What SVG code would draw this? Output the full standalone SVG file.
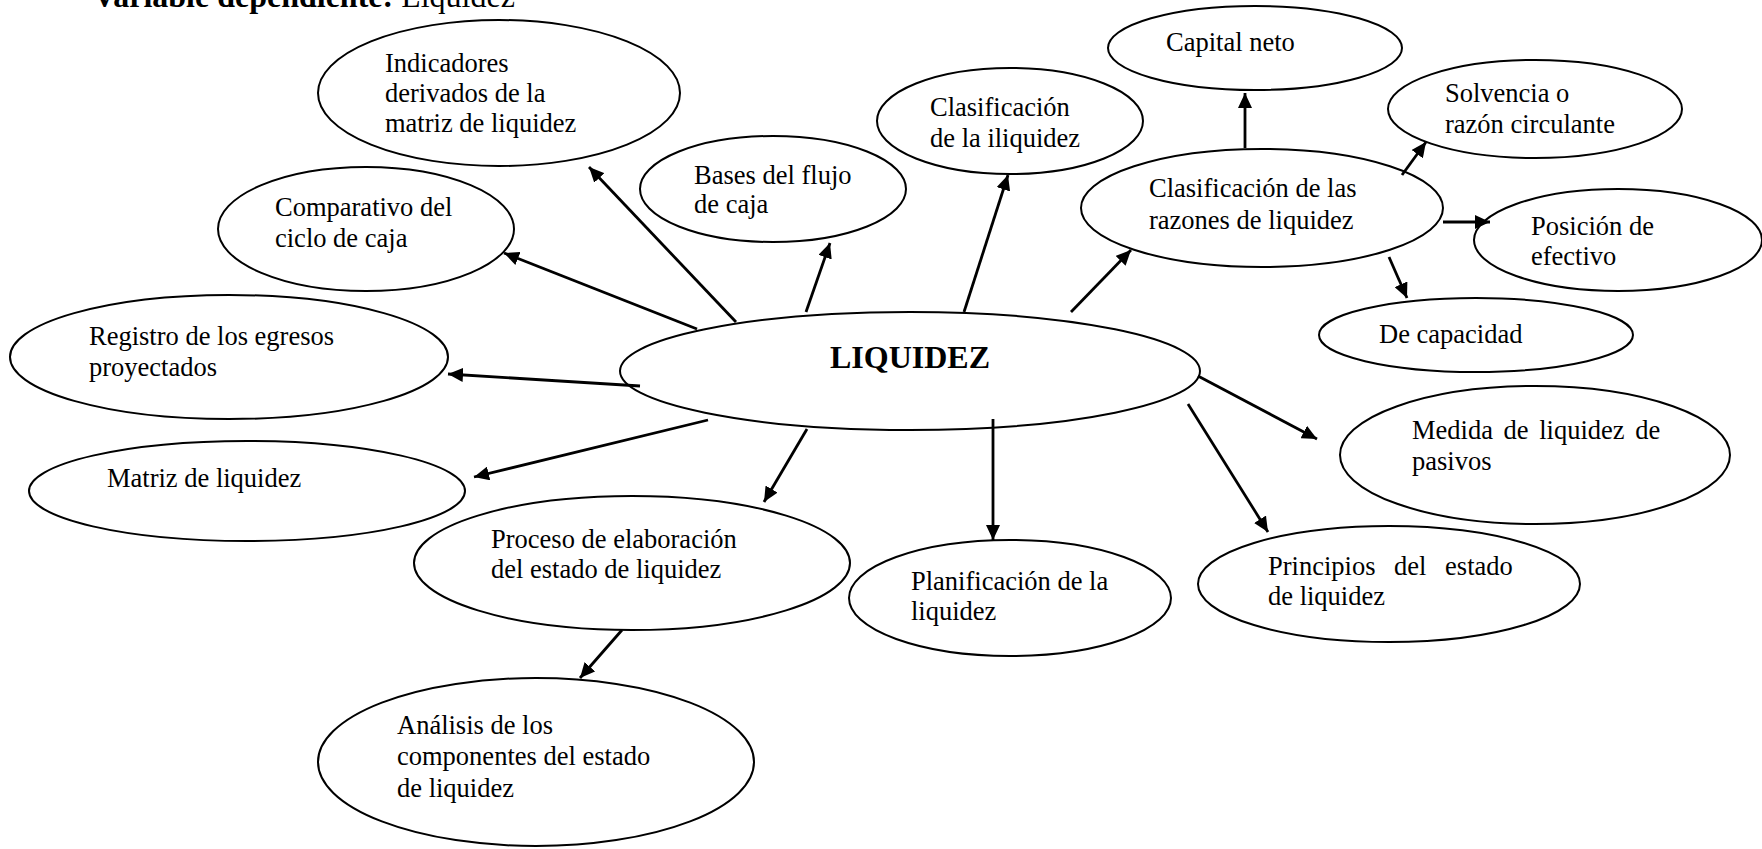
<svg xmlns="http://www.w3.org/2000/svg" width="1762" height="849" viewBox="0 0 1762 849">
<style>
  .node ellipse { fill: #fff; stroke: #000; stroke-width: 2; }
  .node text, .title { font-family: "Liberation Serif", "Times New Roman", serif; font-size: 26.5px; fill: #000; }
  .title { font-size: 32px; }
  .main text { font-weight: bold; font-size: 32px; }
  .conn line { stroke: #000; stroke-width: 2.8; marker-end: url(#arr); }
</style>
<defs>
  <marker id="arr" markerUnits="userSpaceOnUse" markerWidth="16" markerHeight="14" refX="15" refY="7" orient="auto">
    <path d="M0,0 L15,7 L0,14 z" fill="#000"/>
  </marker>
</defs>
<rect width="1762" height="849" fill="#fff"/>
<text class="title" x="93" y="7"><tspan font-weight="bold">Variable dependiente:</tspan> Liquidez</text>

<g id="n-indicadores" class="node"><ellipse cx="499" cy="93" rx="181" ry="73"/><text x="385" y="72">Indicadores</text><text x="385" y="102">derivados de la</text><text x="385" y="132">matriz de liquidez</text></g>
<g id="n-comparativo" class="node"><ellipse cx="366" cy="229" rx="148" ry="62"/><text x="275" y="216">Comparativo del</text><text x="275" y="247">ciclo de caja</text></g>
<g id="n-bases" class="node"><ellipse cx="773" cy="189" rx="133" ry="53"/><text x="694" y="184">Bases del flujo</text><text x="694" y="213">de caja</text></g>
<g id="n-clasif-iliquidez" class="node"><ellipse cx="1010" cy="121" rx="133" ry="53"/><text x="930" y="116">Clasificación</text><text x="930" y="147">de la iliquidez</text></g>
<g id="n-capital" class="node"><ellipse cx="1255" cy="48" rx="147" ry="42"/><text x="1166" y="51">Capital neto</text></g>
<g id="n-razones" class="node"><ellipse cx="1262" cy="208" rx="181" ry="59"/><text x="1149" y="197">Clasificación de las</text><text x="1149" y="229">razones de liquidez</text></g>
<g id="n-solvencia" class="node"><ellipse cx="1535" cy="109" rx="147" ry="49"/><text x="1445" y="102">Solvencia o</text><text x="1445" y="133">razón circulante</text></g>
<g id="n-posicion" class="node"><ellipse cx="1618" cy="240" rx="144" ry="51"/><text x="1531" y="235">Posición de</text><text x="1531" y="265">efectivo</text></g>
<g id="n-capacidad" class="node"><ellipse cx="1476" cy="335" rx="157" ry="37"/><text x="1379" y="343">De capacidad</text></g>
<g id="n-liquidez" class="node main"><ellipse cx="910" cy="371" rx="290" ry="59"/><text x="830" y="368">LIQUIDEZ</text></g>
<g id="n-registro" class="node"><ellipse cx="229" cy="357" rx="219" ry="62"/><text x="89" y="345">Registro de los egresos</text><text x="89" y="376">proyectados</text></g>
<g id="n-matriz" class="node"><ellipse cx="247" cy="491" rx="218" ry="50"/><text x="107" y="487">Matriz de liquidez</text></g>
<g id="n-proceso" class="node"><ellipse cx="632" cy="563" rx="218" ry="67"/><text x="491" y="548">Proceso de elaboración</text><text x="491" y="578">del estado de liquidez</text></g>
<g id="n-analisis" class="node"><ellipse cx="536" cy="762" rx="218" ry="84"/><text x="397" y="734">Análisis de los</text><text x="397" y="765">componentes del estado</text><text x="397" y="797">de liquidez</text></g>
<g id="n-planificacion" class="node"><ellipse cx="1010" cy="598" rx="161" ry="58"/><text x="911" y="590">Planificación de la</text><text x="911" y="620">liquidez</text></g>
<g id="n-principios" class="node"><ellipse cx="1389" cy="584" rx="191" ry="58"/><text x="1268" y="575" word-spacing="12">Principios del estado</text><text x="1268" y="605">de liquidez</text></g>
<g id="n-medida" class="node"><ellipse cx="1535" cy="455" rx="195" ry="69"/><text x="1412" y="439" word-spacing="4">Medida de liquidez de</text><text x="1412" y="470">pasivos</text></g>

<g id="connectors" class="conn">
  <line x1="736" y1="322" x2="589" y2="167"/>
  <line x1="697" y1="329" x2="504" y2="253"/>
  <line x1="640" y1="386" x2="448" y2="374"/>
  <line x1="708" y1="420" x2="474" y2="477"/>
  <line x1="807" y1="429" x2="764" y2="502"/>
  <line x1="622" y1="630" x2="580" y2="678"/>
  <line x1="806" y1="312" x2="830" y2="243"/>
  <line x1="964" y1="312" x2="1008" y2="175"/>
  <line x1="1071" y1="312" x2="1131" y2="250"/>
  <line x1="1245" y1="148" x2="1245" y2="93"/>
  <line x1="1402" y1="175" x2="1426" y2="142"/>
  <line x1="1443" y1="222" x2="1490" y2="222"/>
  <line x1="1389" y1="257" x2="1407" y2="298"/>
  <line x1="993" y1="419" x2="993" y2="540"/>
  <line x1="1188" y1="404" x2="1268" y2="532"/>
  <line x1="1198" y1="376" x2="1317" y2="439"/>
</g>
</svg>
